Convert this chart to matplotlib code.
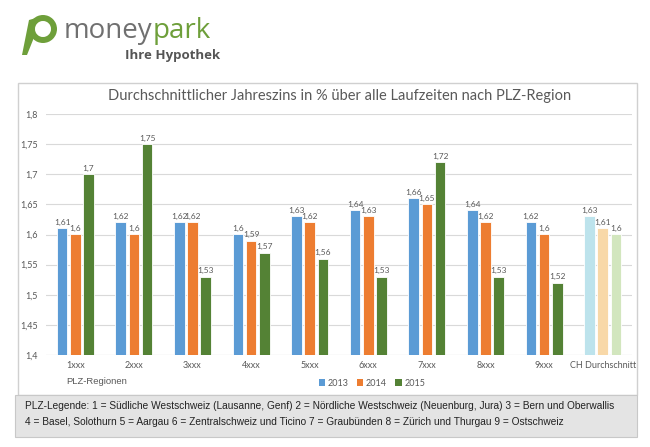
import numpy as np
import matplotlib
matplotlib.use("Agg")
import matplotlib.pyplot as plt
from matplotlib.patches import Rectangle, Wedge, Polygon, Patch

# data
regions = ["1xxx", "2xxx", "3xxx", "4xxx", "5xxx", "6xxx", "7xxx", "8xxx", "9xxx", "CH Durchschnitt"]
years = ["2013", "2014", "2015"]
v2013 = [1.61, 1.62, 1.62, 1.60, 1.63, 1.64, 1.66, 1.64, 1.62, 1.63]
v2014 = [1.60, 1.60, 1.62, 1.59, 1.62, 1.63, 1.65, 1.62, 1.60, 1.61]
v2015 = [1.70, 1.75, 1.53, 1.57, 1.56, 1.53, 1.72, 1.53, 1.52, 1.60]
yticks = [1.4, 1.45, 1.5, 1.55, 1.6, 1.65, 1.7, 1.75, 1.8]

colors = ["#5B9BD5", "#ED7D31", "#548235"]
light = ["#BDE3EC", "#F8D8A8", "#D2E6BE"]

W, H = 650, 447
fig = plt.figure(figsize=(W / 100, H / 100), dpi=100)
fig.patch.set_facecolor("white")


def fx(px):
    return px / W


def fy(py):
    return 1 - py / H


# chart frame + legend box
fig.patches.append(Rectangle((fx(18), fy(395)), fx(637) - fx(18), fy(83) - fy(395),
                             transform=fig.transFigure, facecolor="white",
                             edgecolor="#d0d0d0", lw=1, zorder=-2))
fig.patches.append(Rectangle((fx(15), fy(437)), fx(637) - fx(15), fy(395) - fy(437),
                             transform=fig.transFigure, facecolor="#E4E4E4",
                             edgecolor="#c8c8c8", lw=0.8, zorder=-2))

ax = fig.add_axes([fx(46), fy(355), fx(632) - fx(46), fy(114) - fy(355)])
ax.set_facecolor("none")

x = np.arange(len(regions))
w = 0.18
series = [v2013, v2014, v2015]
for i, vals in enumerate(series):
    cols = [colors[i]] * (len(regions) - 1) + [light[i]]
    pos = x + (i - 1) * 0.225
    ax.bar(pos, np.array(vals) - 1.4, bottom=1.4, width=w, color=cols,
           edgecolor="white", linewidth=0.6, zorder=3)
    for xp, v in zip(pos, vals):
        lbl = ("%g" % v).replace(".", ",")
        ax.text(xp, v + 0.004, lbl, ha="center", va="bottom", fontsize=6.0,
                color="#595959", family="Lato")

ax.set_ylim(1.4, 1.8)
ax.set_xlim(-0.5, len(regions) - 0.5)
ax.set_yticks(yticks)
ax.set_yticklabels([("%g" % t).replace(".", ",") for t in yticks], fontsize=6.5,
                   color="#595959", family="Lato")
ax.set_xticks(x)
ax.set_xticklabels(regions, fontsize=6.5, color="#595959", family="Lato")
ax.tick_params(length=0, pad=4)
ax.tick_params(axis="y", pad=6)
ax.grid(axis="y", color="#d9d9d9", lw=0.8, zorder=0)
for s in ax.spines.values():
    s.set_visible(False)
ax.axhline(1.4, color="#d9d9d9", lw=0.8, zorder=1)

fig.text(fx(340), fy(96), "Durchschnittlicher Jahreszins in % über alle Laufzeiten nach PLZ-Region",
         ha="center", va="center", fontsize=10.5, color="#595959", family="Lato")
fig.text(fx(97), fy(381), "PLZ-Regionen", ha="center", va="center", fontsize=6.8,
         color="#595959", family="Liberation Sans")

handles = [Patch(facecolor=c, label=y) for c, y in zip(colors, years)]
leg = fig.legend(handles=handles, loc="center", bbox_to_anchor=(fx(372), fy(383)),
                 ncol=3, frameon=False, fontsize=6.5, handlelength=0.7, handleheight=0.7,
                 handletextpad=0.3, columnspacing=0.9)
for t in leg.get_texts():
    t.set_color("#595959")
    t.set_family("Lato")

fig.text(fx(25), fy(406),
         "PLZ-Legende: 1 = Südliche Westschweiz (Lausanne, Genf) 2 = Nördliche Westschweiz (Neuenburg, Jura) 3 = Bern und Oberwallis",
         ha="left", va="center", fontsize=7.3, color="#222222", family="Liberation Sans")
fig.text(fx(25), fy(422),
         "4 = Basel, Solothurn 5 = Aargau 6 = Zentralschweiz und Ticino 7 = Graubünden 8 = Zürich und Thurgau 9 = Ostschweiz",
         ha="left", va="center", fontsize=7.3, color="#222222", family="Liberation Sans")

# logo
green = "#6E9F3A"
fig.patches.append(Wedge((43, H - 29), 14, 0, 360, width=6, transform=None,
                         facecolor=green, edgecolor="none"))
fig.patches.append(Polygon([(22, H - 55), (29, H - 20), (36, H - 18), (33, H - 40), (27, H - 55)],
                           closed=True, transform=None, facecolor=green, edgecolor="none"))
t_money = fig.text(fx(64), fy(31), "money", ha="left", va="center", fontsize=20,
                   color="#707070", family="Open Sans")
fig.canvas.draw()
bb = t_money.get_window_extent()
fig.text(bb.x1 / W, fy(31), "park", ha="left", va="center", fontsize=20, color=green,
         family="Open Sans")
fig.text(fx(125), fy(55), "Ihre Hypothek", ha="left", va="center", fontsize=9.5,
         color="#555555", family="Open Sans", weight="bold")

fig.savefig("out.png", dpi=100)
